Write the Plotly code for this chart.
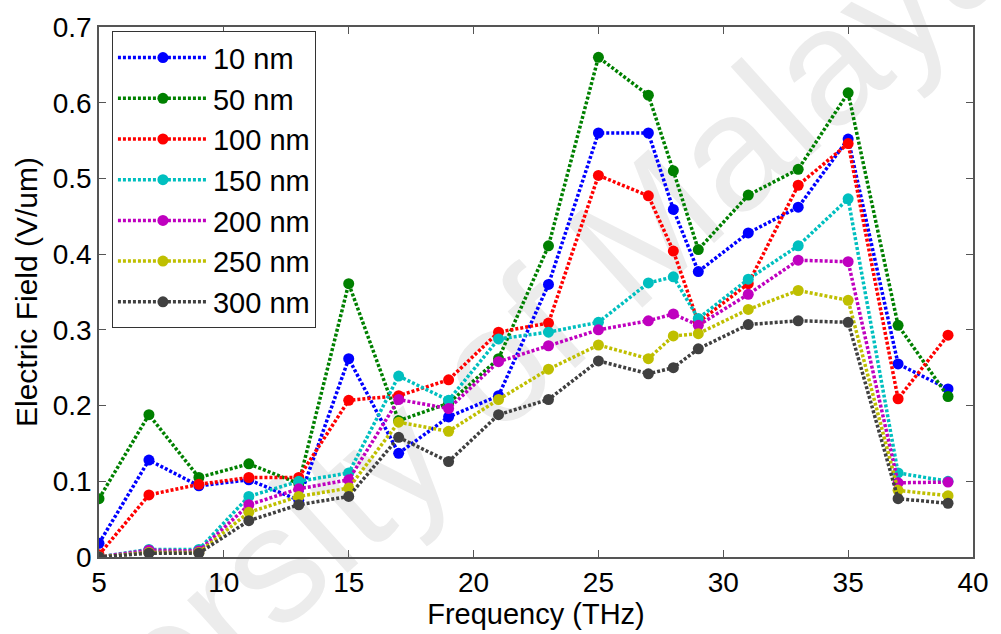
import plotly.graph_objects as go

# Frequency sweep (THz)
freq = [5, 7, 9, 11, 13, 15, 17, 19, 21, 23, 25, 27, 28, 29, 31, 33, 35, 37, 39]

# Peak electric field (V/um) for each layer thickness
e10 = [0.018, 0.128, 0.094, 0.102, 0.075, 0.262, 0.137, 0.185, 0.213, 0.360,
       0.560, 0.560, 0.459, 0.377, 0.428, 0.462, 0.552, 0.255, 0.222]
e50 = [0.077, 0.188, 0.105, 0.123, 0.097, 0.361, 0.180, 0.203, 0.262, 0.411,
       0.660, 0.610, 0.510, 0.406, 0.478, 0.512, 0.613, 0.306, 0.212]
e100 = [0.003, 0.082, 0.096, 0.105, 0.105, 0.207, 0.213, 0.234, 0.297, 0.309,
        0.504, 0.477, 0.404, 0.310, 0.361, 0.491, 0.546, 0.209, 0.293]
e150 = [0.000, 0.010, 0.010, 0.080, 0.100, 0.111, 0.239, 0.207, 0.288, 0.297,
        0.310, 0.362, 0.370, 0.315, 0.367, 0.411, 0.473, 0.111, 0.100]
e200 = [0.000, 0.009, 0.008, 0.069, 0.090, 0.102, 0.208, 0.196, 0.258, 0.279,
        0.300, 0.312, 0.321, 0.306, 0.347, 0.392, 0.390, 0.098, 0.099]
e250 = [0.000, 0.006, 0.006, 0.059, 0.080, 0.091, 0.178, 0.166, 0.208, 0.248,
        0.280, 0.262, 0.292, 0.295, 0.327, 0.352, 0.339, 0.088, 0.081]
e300 = [0.000, 0.005, 0.005, 0.048, 0.069, 0.080, 0.158, 0.126, 0.188, 0.208,
        0.259, 0.242, 0.250, 0.275, 0.307, 0.312, 0.310, 0.077, 0.071]

labels = ["10 nm", "50 nm", "100 nm", "150 nm", "200 nm", "250 nm", "300 nm"]
series = [e10, e50, e100, e150, e200, e250, e300]
colors = ["#0000FF", "#008000", "#FF0000", "#00BFBF", "#BF00BF", "#BFBF00", "#404040"]

FONT = "Arial, Liberation Sans, sans-serif"

fig = go.Figure()
for name, vals, col in zip(labels, series, colors):
    fig.add_trace(go.Scatter(
        x=freq, y=vals, name=name, mode="lines+markers",
        legendgroup=name,
        line=dict(color=col, width=3.5, dash="3px,2px"),
        marker=dict(color=col, size=11),
    ))

axis_common = dict(
    showline=True, linecolor="#555555", linewidth=1.5, mirror="ticks",
    ticks="inside", ticklen=7, tickcolor="#555555", tickwidth=1,
    showgrid=False, zeroline=False,
    tickfont=dict(family=FONT, size=28, color="#000000"),
)

fig.update_layout(
    width=1001, height=634,
    margin=dict(l=99, r=22, t=22, b=77),
    paper_bgcolor="white", plot_bgcolor="white",
    font=dict(family=FONT, color="#000000"),
    xaxis=dict(range=[5, 40], tickvals=[5, 10, 15, 20, 25, 30, 35, 40],
               title=dict(text="Frequency (THz)", font=dict(size=29), standoff=2),
               **axis_common),
    yaxis=dict(range=[0, 0.7], tickvals=[0, 0.1, 0.2, 0.3, 0.4, 0.5, 0.6, 0.7],
               ticktext=["0", "0.1", "0.2", "0.3", "0.4", "0.5", "0.6", "0.7"],
               title=dict(text="Electric Field (V/um)", font=dict(size=30), standoff=6),
               **axis_common),
    legend=dict(
        x=0.0148, y=0.992, xanchor="left", yanchor="top",
        bgcolor="white", bordercolor="#333333", borderwidth=1,
        font=dict(family=FONT, size=29, color="#000000"),
        tracegroupgap=0, itemwidth=90,
    ),
    showlegend=True,
)

# Faint diagonal watermark behind the data
fig.add_shape(
    type="rect", xref="paper", yref="paper",
    x0=0.36, x1=0.39, y0=0.28, y1=0.30,
    line=dict(width=0), fillcolor="rgba(0,0,0,0)", layer="below",
    label=dict(text="University of Malaya", textangle=-42,
               textposition="middle center",
               font=dict(family=FONT, size=165, color="#ececec")),
)

fig.write_html("out.html")
